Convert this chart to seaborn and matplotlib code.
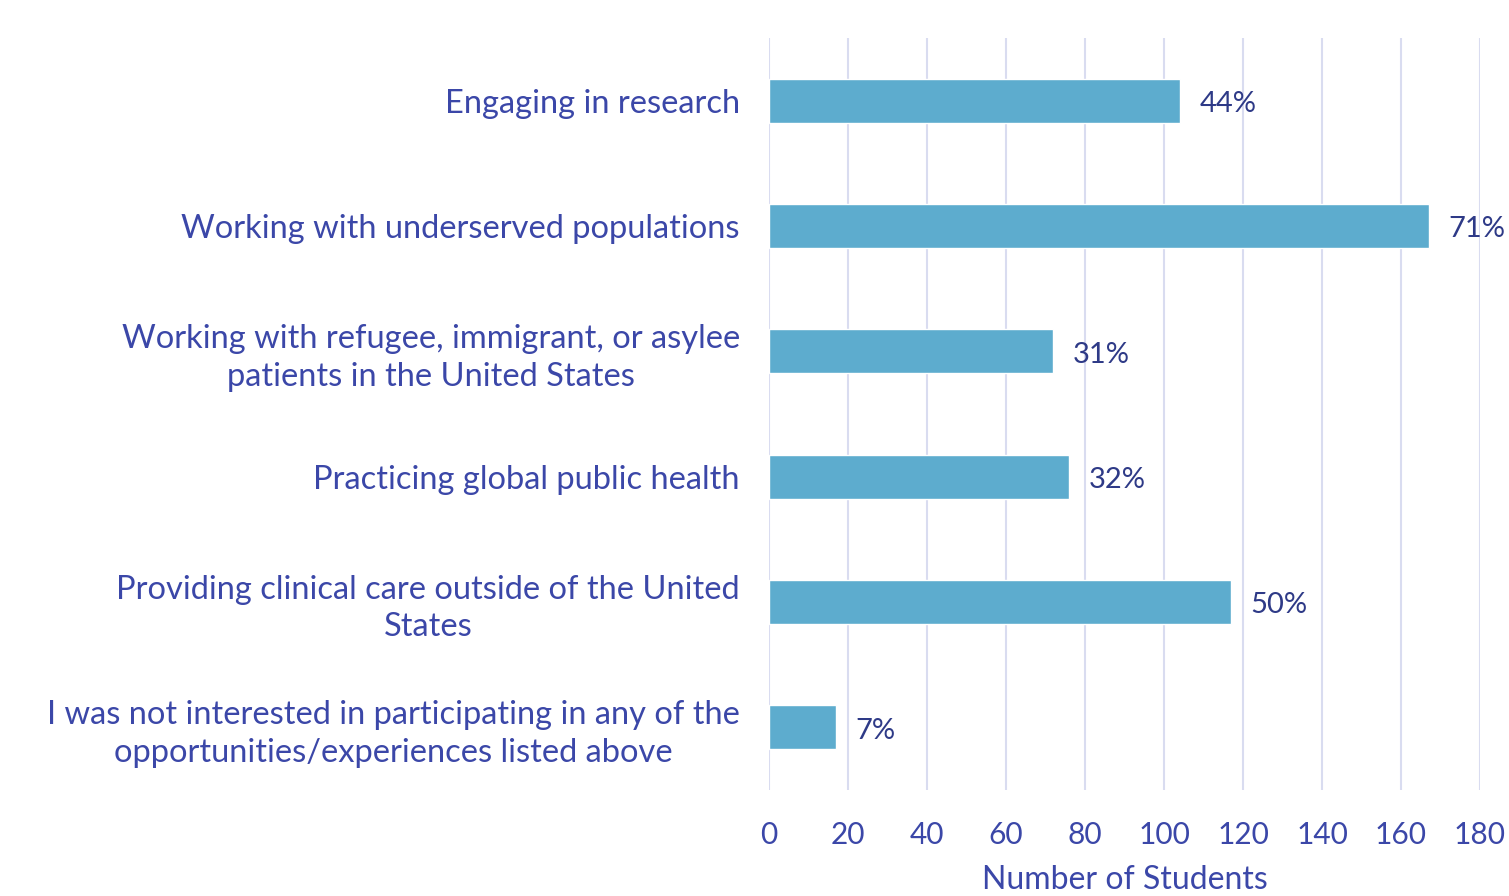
import matplotlib
matplotlib.use("Agg")
import matplotlib.pyplot as plt
import seaborn as sns
import pandas as pd

categories = [
    "Engaging in research",
    "Working with underserved populations",
    "Working with refugee, immigrant, or asylee\npatients in the United States",
    "Practicing global public health",
    "Providing clinical care outside of the United\nStates",
    "I was not interested in participating in any of the\nopportunities/experiences listed above",
]
counts = [104, 167, 72, 76, 117, 17]
percent_labels = ["44%", "71%", "31%", "32%", "50%", "7%"]
x_ticks = [0, 20, 40, 60, 80, 100, 120, 140, 160, 180]

sns.set_theme(style="white")
plt.rcParams["font.family"] = ["Lato", "DejaVu Sans"]

text_color = "#3B47A8"
label_color = "#2E3A87"
bar_color = "#5DACCE"
grid_color = "#D9DCF0"

df = pd.DataFrame({"category": categories, "count": counts})

fig = plt.figure(figsize=(15.09, 8.96), dpi=100)
ax = fig.add_axes([769 / 1509, 1 - 790 / 896, (1480 - 769) / 1509, (790 - 38) / 896])

sns.barplot(data=df, x="count", y="category", color=bar_color, width=0.35,
            saturation=1, ax=ax, zorder=3)

ax.set_xlim(0, 180)
ax.set_ylim(5.5, -0.5)
ax.set_xticks(x_ticks)
ax.set_xticklabels([str(t) for t in x_ticks])
for xt in x_ticks:
    ax.axvline(xt, color=grid_color, lw=1.5, zorder=1)

for s in ax.spines.values():
    s.set_visible(False)

ax.tick_params(axis="x", length=0, pad=22, labelsize=21.5, labelcolor=text_color)
ax.tick_params(axis="y", length=0, pad=21, labelsize=23.5, labelcolor=text_color)
for lab in ax.get_yticklabels():
    lab.set_multialignment("center")
    lab.set_linespacing(1.3)

ax.set_ylabel("")
ax.set_xlabel("Number of Students", fontsize=23, color=text_color, labelpad=12)

for i, (c, p) in enumerate(zip(counts, percent_labels)):
    ax.annotate(p, xy=(c, i), xytext=(14, -2.5), textcoords="offset points",
                va="center", ha="left", fontsize=21, color=label_color)

fig.savefig("out.png", dpi=100)
